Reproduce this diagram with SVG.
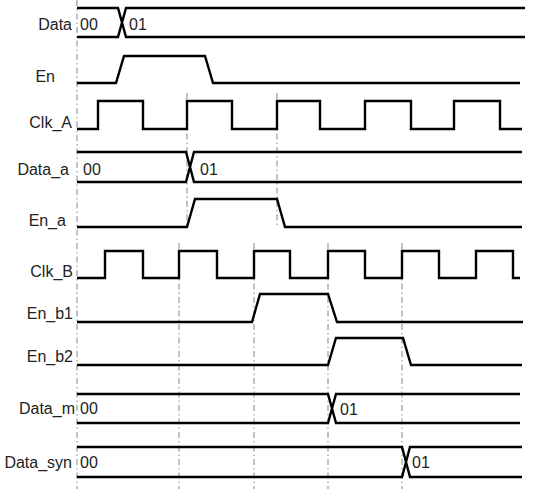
<svg xmlns="http://www.w3.org/2000/svg" width="554" height="489" viewBox="0 0 554 489">
<style>
.bg{fill:#fff}
.w{fill:none;stroke:#000;stroke-width:2.4;stroke-linejoin:miter}
.g{fill:none;stroke:#9a9a9a;stroke-width:1.2;stroke-dasharray:6 3 1.5 3}
.lb{font-family:"Liberation Sans",Arial,sans-serif;font-size:16px;fill:#222;text-anchor:end}
.v{font-family:"Liberation Sans",Arial,sans-serif;font-size:16px;fill:#222}
</style>
<rect class="bg" width="554" height="489"/>
<g id="guides">
<line class="g" x1="77" y1="0" x2="77" y2="489"/>
<line class="g" x1="187" y1="93" x2="187" y2="228"/>
<line class="g" x1="277" y1="93" x2="277" y2="228"/>
<line class="g" x1="179" y1="243" x2="179" y2="489"/>
<line class="g" x1="254" y1="243" x2="254" y2="489"/>
<line class="g" x1="328" y1="243" x2="328" y2="489"/>
<line class="g" x1="402" y1="243" x2="402" y2="489"/>
</g>
<g id="Data">
<text class="lb" x="72" y="30">Data</text>
<path class="w" d="M77,8 H118 L126,37 H525 M77,37 H118 L126,8 H525"/>
<text class="v" x="80" y="30">00</text>
<text class="v" x="129" y="30">01</text>
</g>
<g id="En">
<text class="lb" x="55" y="82">En</text>
<path class="w" d="M77,83 H116 L124,56 H205 L213,83 H520"/>
</g>
<g id="Clk_A">
<text class="lb" x="72" y="128">Clk_A</text>
<path class="w" d="M77,129 H98 V101 H143 V129 H187 V101 H232 V129 H277 V101 H320 V129 H365 V101 H411 V129 H454 V101 H500 V129 H522"/>
</g>
<g id="Data_a">
<text class="lb" x="69" y="175">Data_a</text>
<path class="w" d="M77,152 H186 L194,182 H522 M77,182 H186 L194,152 H522"/>
<text class="v" x="83" y="175">00</text>
<text class="v" x="200" y="175">01</text>
</g>
<g id="En_a">
<text class="lb" x="66" y="226">En_a</text>
<path class="w" d="M77,227 H187 L195,199 H277 L285,227 H522"/>
</g>
<g id="Clk_B">
<text class="lb" x="73" y="277">Clk_B</text>
<path class="w" d="M77,278 H105 V251 H143 V278 H179 V251 H217 V278 H254 V251 H290 V278 H328 V251 H365 V278 H402 V251 H439 V278 H476 V251 H513 V278 H520"/>
</g>
<g id="En_b1">
<text class="lb" x="73" y="319">En_b1</text>
<path class="w" d="M77,322 H252 L260,294 H328 L337,322 H523"/>
</g>
<g id="En_b2">
<text class="lb" x="73" y="362">En_b2</text>
<path class="w" d="M77,365 H328 L336,338 H403 L411,365 H522"/>
</g>
<g id="Data_m">
<text class="lb" x="75" y="414">Data_m</text>
<path class="w" d="M77,394 H328 L336,423 H520 M77,423 H328 L336,394 H520"/>
<text class="v" x="80" y="414">00</text>
<text class="v" x="340" y="415">01</text>
</g>
<g id="Data_syn">
<text class="lb" x="72" y="468">Data_syn</text>
<path class="w" d="M77,447 H402 L410,477 H522 M77,477 H402 L410,447 H522"/>
<text class="v" x="80" y="468">00</text>
<text class="v" x="412" y="468">01</text>
</g>
</svg>
